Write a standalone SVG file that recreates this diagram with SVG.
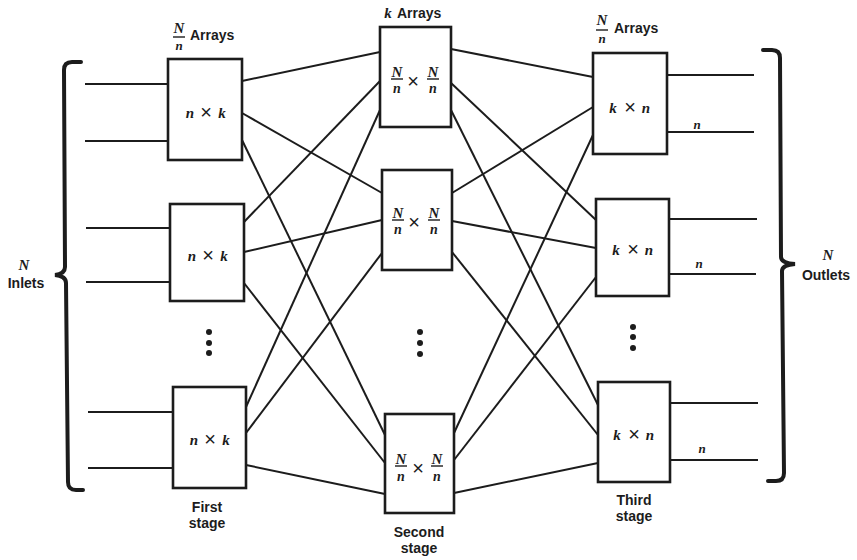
<svg xmlns="http://www.w3.org/2000/svg" width="857" height="560" viewBox="0 0 857 560">
<style>
.box{fill:#fff;stroke:#1c1c1c;stroke-width:2.6}
.ln{stroke:#1c1c1c;stroke-width:2;fill:none}
.br{stroke:#1c1c1c;stroke-width:4;fill:none;stroke-linecap:round}
.lab{font-family:"Liberation Sans",Arial,sans-serif;font-weight:bold;font-size:14px;fill:#1c1c1c}
.m{font-family:"Liberation Serif","Times New Roman",serif;font-weight:bold;font-style:italic;fill:#1c1c1c}
.x{font-family:"Liberation Sans",Arial,sans-serif;font-size:20px;fill:#1c1c1c}
.bar{stroke:#1c1c1c;stroke-width:1.4}
.dot{fill:#1c1c1c}
</style>
<rect width="857" height="560" fill="#fff"/>
<g id="connectors">
<line class="ln" x1="85" y1="84" x2="168" y2="84"/>
<line class="ln" x1="85" y1="141" x2="168" y2="141"/>
<line class="ln" x1="86" y1="228" x2="170" y2="228"/>
<line class="ln" x1="86" y1="282" x2="170" y2="282"/>
<line class="ln" x1="88" y1="412" x2="173" y2="412"/>
<line class="ln" x1="88" y1="468" x2="173" y2="468"/>
<line class="ln" x1="242" y1="81" x2="380" y2="52"/>
<line class="ln" x1="242" y1="113" x2="382" y2="193"/>
<line class="ln" x1="242" y1="140" x2="385" y2="435"/>
<line class="ln" x1="244" y1="222" x2="380" y2="81"/>
<line class="ln" x1="244" y1="252" x2="382" y2="220"/>
<line class="ln" x1="244" y1="283" x2="385" y2="463"/>
<line class="ln" x1="246" y1="407" x2="380" y2="110"/>
<line class="ln" x1="246" y1="433" x2="382" y2="253"/>
<line class="ln" x1="246" y1="465" x2="385" y2="494"/>
<line class="ln" x1="451" y1="49" x2="593" y2="77"/>
<line class="ln" x1="451" y1="83" x2="596" y2="220"/>
<line class="ln" x1="451" y1="110" x2="598" y2="405"/>
<line class="ln" x1="452" y1="193" x2="593" y2="107"/>
<line class="ln" x1="452" y1="221" x2="596" y2="248"/>
<line class="ln" x1="452" y1="252" x2="598" y2="435"/>
<line class="ln" x1="454" y1="433" x2="593" y2="135"/>
<line class="ln" x1="454" y1="460" x2="596" y2="277"/>
<line class="ln" x1="454" y1="493" x2="598" y2="463"/>
<line class="ln" x1="667" y1="75" x2="754" y2="75"/>
<line class="ln" x1="667" y1="132" x2="754" y2="132"/>
<line class="ln" x1="669" y1="219" x2="757" y2="219"/>
<line class="ln" x1="669" y1="274" x2="756" y2="274"/>
<line class="ln" x1="670" y1="403" x2="758" y2="403"/>
<line class="ln" x1="670" y1="460" x2="758" y2="460"/>
</g>
<g id="brace-left">
<path class="br" d="M81,62 L72,62 Q64,62 64,70 L65,267 Q65,274 55,275 Q66,276 66,283 L68,482 Q68,490 76,490 L83,490"/>
<text class="m" x="24" y="270" font-size="15" text-anchor="middle">N</text>
<text class="lab" x="26" y="288" text-anchor="middle">Inlets</text>
</g>
<g id="brace-right">
<path class="br" d="M763,50 L772,50 Q780,50 780,58 L781,257 Q781,263 795,264 Q782,265 782,271 L784,473 Q784,481 776,481 L768,481"/>
<text class="m" x="828" y="260" font-size="15" text-anchor="middle">N</text>
<text class="lab" x="826" y="280" text-anchor="middle">Outlets</text>
</g>
<g id="stage1-title">
<text class="m" x="179" y="33" font-size="15" text-anchor="middle">N</text>
<line class="bar" x1="173" y1="37" x2="185" y2="37"/>
<text class="m" x="179" y="50" font-size="13" text-anchor="middle">n</text>
<text class="lab" x="190" y="40" font-size="15">Arrays</text>
</g>
<g id="stage2-title">
<text class="m" x="388" y="18" font-size="15" text-anchor="middle">k</text>
<text class="lab" x="397" y="18" font-size="15">Arrays</text>
</g>
<g id="stage3-title">
<text class="m" x="602" y="25" font-size="15" text-anchor="middle">N</text>
<line class="bar" x1="596" y1="30" x2="608" y2="30"/>
<text class="m" x="602" y="43" font-size="13" text-anchor="middle">n</text>
<text class="lab" x="614" y="33" font-size="15">Arrays</text>
</g>
<g id="f1">
<rect class="box" x="168" y="59" width="74" height="101"/>
<text class="m" x="190" y="118" font-size="15" text-anchor="middle">n</text>
<text class="x" x="206" y="119" text-anchor="middle">×</text>
<text class="m" x="222" y="118" font-size="15" text-anchor="middle">k</text>
</g>
<g id="f2">
<rect class="box" x="170" y="204" width="74" height="97"/>
<text class="m" x="192" y="261" font-size="15" text-anchor="middle">n</text>
<text class="x" x="208" y="262" text-anchor="middle">×</text>
<text class="m" x="224" y="261" font-size="15" text-anchor="middle">k</text>
</g>
<g id="f-dots">
<circle class="dot" cx="209" cy="332" r="3"/>
<circle class="dot" cx="209" cy="343" r="3"/>
<circle class="dot" cx="209" cy="353" r="3"/>
</g>
<g id="f3">
<rect class="box" x="173" y="387" width="73" height="101"/>
<text class="m" x="194" y="445" font-size="15" text-anchor="middle">n</text>
<text class="x" x="210" y="446" text-anchor="middle">×</text>
<text class="m" x="226" y="445" font-size="15" text-anchor="middle">k</text>
<text class="lab" x="207" y="512" font-size="13" text-anchor="middle">First</text>
<text class="lab" x="207" y="528" font-size="13" text-anchor="middle">stage</text>
</g>
<g id="m1">
<rect class="box" x="380" y="27" width="71" height="100"/>
<text class="m" x="397" y="77" font-size="15" text-anchor="middle">N</text>
<line class="bar" x1="391" y1="79" x2="403" y2="79"/>
<text class="m" x="397" y="93" font-size="14" text-anchor="middle">n</text>
<text class="x" x="413" y="88" text-anchor="middle">×</text>
<text class="m" x="433" y="77" font-size="15" text-anchor="middle">N</text>
<line class="bar" x1="427" y1="79" x2="439" y2="79"/>
<text class="m" x="433" y="93" font-size="14" text-anchor="middle">n</text>
</g>
<g id="m2">
<rect class="box" x="382" y="170" width="70" height="100"/>
<text class="m" x="398" y="218" font-size="15" text-anchor="middle">N</text>
<line class="bar" x1="392" y1="220" x2="404" y2="220"/>
<text class="m" x="398" y="234" font-size="14" text-anchor="middle">n</text>
<text class="x" x="414" y="229" text-anchor="middle">×</text>
<text class="m" x="434" y="218" font-size="15" text-anchor="middle">N</text>
<line class="bar" x1="428" y1="220" x2="440" y2="220"/>
<text class="m" x="434" y="234" font-size="14" text-anchor="middle">n</text>
</g>
<g id="m-dots">
<circle class="dot" cx="420" cy="332" r="3"/>
<circle class="dot" cx="420" cy="343" r="3"/>
<circle class="dot" cx="420" cy="354" r="3"/>
</g>
<g id="m3">
<rect class="box" x="385" y="414" width="69" height="99"/>
<text class="m" x="401" y="464" font-size="15" text-anchor="middle">N</text>
<line class="bar" x1="395" y1="466" x2="407" y2="466"/>
<text class="m" x="401" y="481" font-size="14" text-anchor="middle">n</text>
<text class="x" x="418" y="475" text-anchor="middle">×</text>
<text class="m" x="437" y="464" font-size="15" text-anchor="middle">N</text>
<line class="bar" x1="431" y1="466" x2="443" y2="466"/>
<text class="m" x="437" y="481" font-size="14" text-anchor="middle">n</text>
<text class="lab" x="419" y="537" font-size="14" text-anchor="middle">Second</text>
<text class="lab" x="419" y="553" font-size="14" text-anchor="middle">stage</text>
</g>
<g id="t1">
<rect class="box" x="593" y="53" width="74" height="101"/>
<text class="m" x="613" y="113" font-size="15" text-anchor="middle">k</text>
<text class="x" x="630" y="114" text-anchor="middle">×</text>
<text class="m" x="646" y="113" font-size="15" text-anchor="middle">n</text>
<text class="m" x="697" y="129" font-size="13" text-anchor="middle">n</text>
</g>
<g id="t2">
<rect class="box" x="596" y="199" width="73" height="97"/>
<text class="m" x="616" y="255" font-size="15" text-anchor="middle">k</text>
<text class="x" x="633" y="256" text-anchor="middle">×</text>
<text class="m" x="649" y="255" font-size="15" text-anchor="middle">n</text>
<text class="m" x="699" y="268" font-size="13" text-anchor="middle">n</text>
</g>
<g id="t-dots">
<circle class="dot" cx="633" cy="327" r="3"/>
<circle class="dot" cx="633" cy="337" r="3"/>
<circle class="dot" cx="633" cy="348" r="3"/>
</g>
<g id="t3">
<rect class="box" x="598" y="382" width="72" height="100"/>
<text class="m" x="617" y="440" font-size="15" text-anchor="middle">k</text>
<text class="x" x="634" y="441" text-anchor="middle">×</text>
<text class="m" x="650" y="440" font-size="15" text-anchor="middle">n</text>
<text class="m" x="702" y="453" font-size="13" text-anchor="middle">n</text>
<text class="lab" x="634" y="505" font-size="13" text-anchor="middle">Third</text>
<text class="lab" x="634" y="521" font-size="13" text-anchor="middle">stage</text>
</g>
</svg>
